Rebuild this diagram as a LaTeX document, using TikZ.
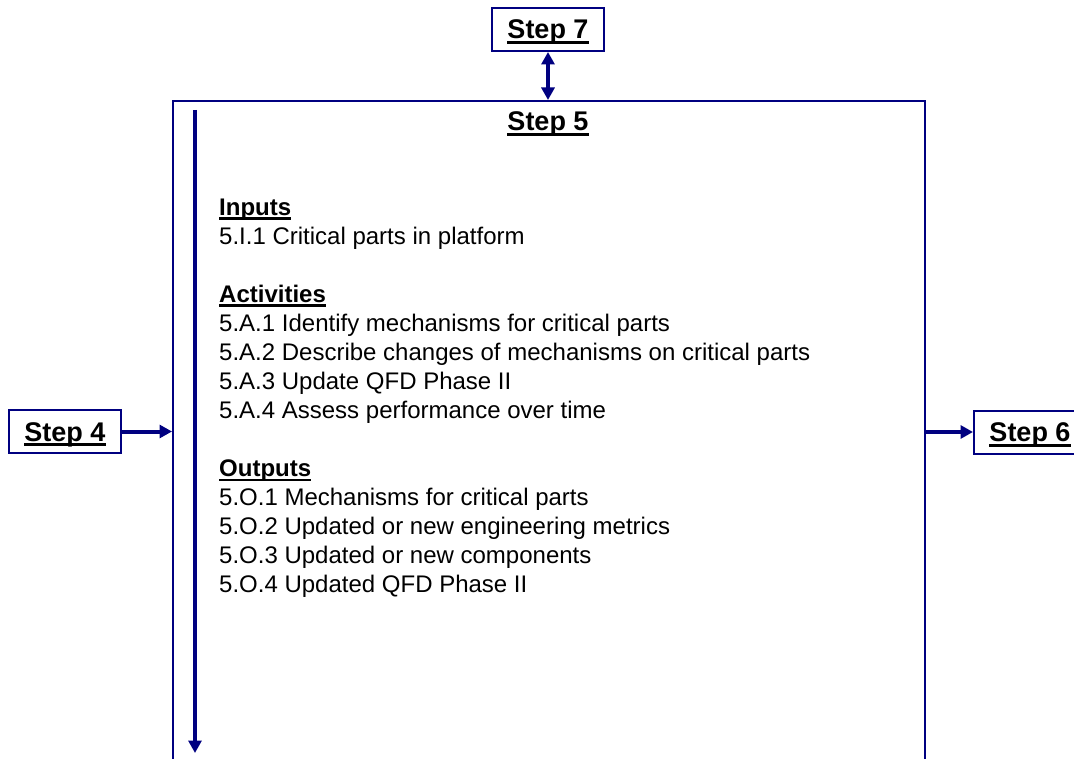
\documentclass[tikz,border=0pt]{standalone}
\usepackage{fontspec}
\setmainfont{Liberation Sans}
\usetikzlibrary{arrows.meta}
\definecolor{navy}{RGB}{0,0,128}

% underlined word with a solid bar under the baseline
\newcommand{\ulword}[2][2.5pt]{%
  \setbox0=\hbox{#2}%
  \rlap{\vrule height -2pt depth \dimexpr 2pt+#1\relax width \wd0}\box0}

\begin{document}
\begin{tikzpicture}[x=1pt,y=-1pt,
  stepbox/.style={draw=navy, line width=2pt, fill=white,
    minimum width=112pt, minimum height=43pt, inner sep=0pt,
    font=\fontsize{27}{32}\selectfont\bfseries,
    text height=27pt, text depth=8pt},
  framebox/.style={draw=navy, line width=2pt, inner sep=0pt},
  flow/.style={draw=navy, line width=4pt,
    -{Triangle[length=12.5pt,width=13pt]}},
  twoway/.style={draw=navy, line width=4pt,
    {Triangle[length=12.5pt,width=13pt]}-{Triangle[length=12.5pt,width=13pt]}},
  body/.style={anchor=base west, inner sep=0pt,
    font=\fontsize{24}{29}\selectfont},
  head/.style={body, font=\fontsize{24}{29}\selectfont\bfseries}]

\useasboundingbox (0,0) rectangle (1074,759);

% central frame of step 5 (runs past the lower edge)
\node[framebox, anchor=north west, minimum width=752pt, minimum height=720pt]
  (step5) at (172,100) {};
\node[anchor=base, inner sep=0pt, font=\fontsize{27}{32}\selectfont\bfseries]
  (title) at (548,131) {\ulword[3pt]{Step 5}};

% neighbouring steps
\node[stepbox] (step7) at (548,29.5) {\ulword[3pt]{Step 7}};
\node[stepbox] (step4) at (65,431.5) {\ulword[3pt]{Step 4}};
\node[stepbox] (step6) at (1030,432) {\ulword[3pt]{Step 6}};

% connectors
\draw[twoway] (step7.south) -- (step7.south |- step5.north);
\draw[flow] (step4.east) -- (step4.east -| step5.west);
\draw[flow] (step6.west -| step5.east) -- (step6.west);

% progress arrow inside the frame
\coordinate (flowtop) at (195,110);
\coordinate (flowend) at (195,753);
\draw[flow] (flowtop) -- (flowend);

% contents
\foreach \k/\txt/\sty in {
  0/{\ulword{Inputs}}/head,
  1/{5.I.1 Critical parts in platform}/body,
  3/{\ulword{Activities}}/head,
  4/{5.A.1 Identify mechanisms for critical parts}/body,
  5/{5.A.2 Describe changes of mechanisms on critical parts}/body,
  6/{5.A.3 Update QFD Phase II}/body,
  7/{5.A.4 Assess performance over time}/body,
  9/{\ulword{Outputs}}/head,
  10/{5.O.1 Mechanisms for critical parts}/body,
  11/{5.O.2 Updated or new engineering metrics}/body,
  12/{5.O.3 Updated or new components}/body,
  13/{5.O.4 Updated QFD Phase II}/body}
  \node[\sty] (line\k) at (219,215.5+29*\k) {\txt};

\end{tikzpicture}
\end{document}
